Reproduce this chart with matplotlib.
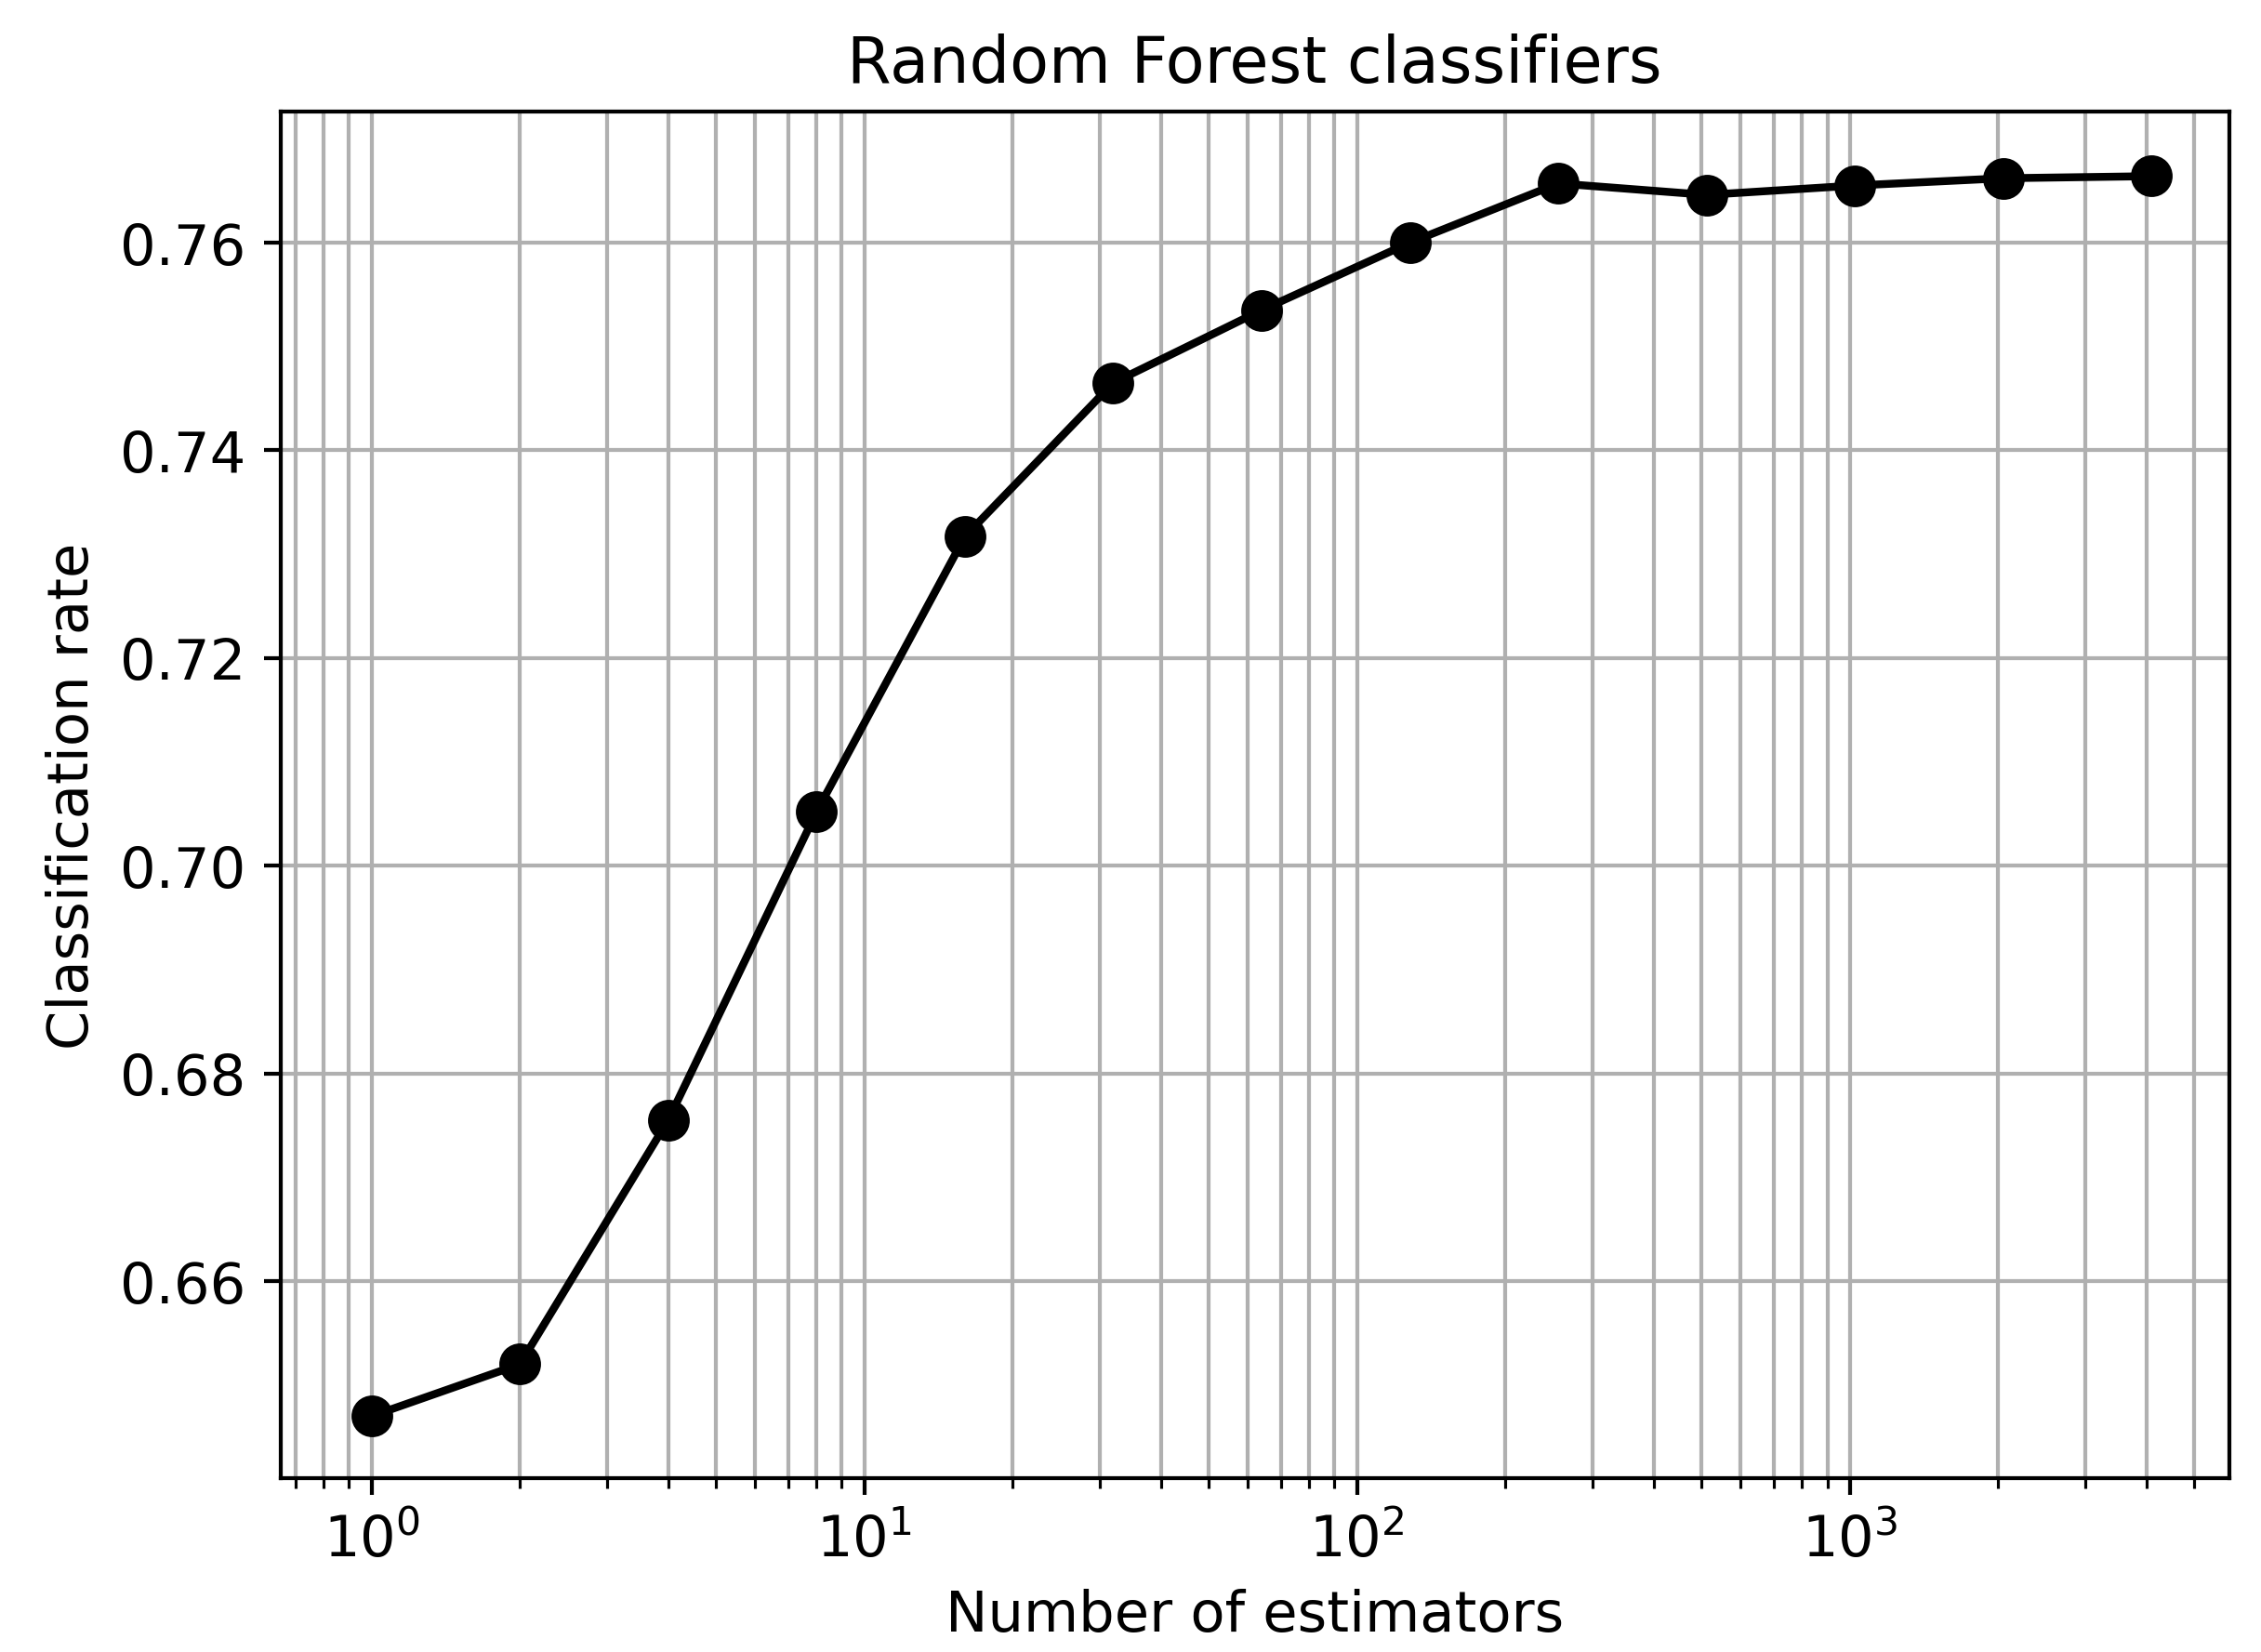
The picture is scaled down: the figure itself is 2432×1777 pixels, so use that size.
import matplotlib
matplotlib.use("Agg")
import matplotlib.pyplot as plt

n_estimators = [1, 2, 4, 8, 16, 32, 64, 128, 256, 512, 1024, 2048, 4096]
rates = [0.647, 0.652, 0.6755, 0.7052, 0.7317, 0.7465, 0.7535, 0.7600,
         0.7657, 0.7646, 0.7655, 0.7662, 0.7664]

plt.rcParams['font.size'] = 11.5
fig = plt.figure(figsize=(6.4, 4.678), dpi=380)
ax = fig.add_axes([0.124, 0.105, 0.862, 0.827])
ax.plot(n_estimators, rates, 'k-o', markersize=7.5, linewidth=1.6)
ax.set_xscale('log')
ax.set_xlim(10**-0.185, 10**3.77)
ax.set_ylim(0.641, 0.7726)
ax.set_yticks([0.66, 0.68, 0.70, 0.72, 0.74, 0.76])
ax.grid(True, which='both', color='#b0b0b0', linewidth=0.8)
ax.set_axisbelow(True)
ax.set_title('Random Forest classifiers', fontsize=13)
ax.set_xlabel('Number of estimators')
ax.set_ylabel('Classification rate')
fig.savefig('out.png', dpi=380)
